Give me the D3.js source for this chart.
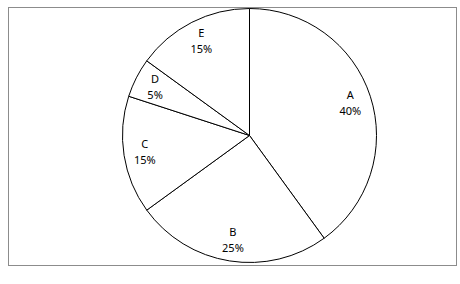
<!DOCTYPE html>
<html>
<head>
<meta charset="utf-8">
<script src="https://cdn.jsdelivr.net/npm/d3@7"></script>
<style>
  body { margin: 0; background: #fff; }
  svg { display: block; }
  .slice { fill: #fff; stroke: #000; stroke-width: 1; }
  .frame { fill: none; stroke: #8c8c8c; stroke-width: 1; }
  .label { font-family: "Noto Sans", sans-serif; font-size: 11px; fill: #000; text-anchor: middle; }
</style>
</head>
<body>
<svg width="460" height="284"></svg>
<script>
// Share of each category (percent)
const categories = ['A', 'B', 'C', 'D', 'E'];
const shares = [40, 25, 15, 5, 15];

const svg = d3.select('svg');
const cx = 249.5, cy = 135.5, radius = 127;

// Grey outer border
svg.append('rect')
  .attr('class', 'frame')
  .attr('x', 8.5)
  .attr('y', 7.5)
  .attr('width', 448)
  .attr('height', 258);

const pie = d3.pie()
  .sort(null) // keep the order, clockwise from 12 o'clock
  .value(d => d.value);

const arcs = pie(categories.map((c, i) => ({ name: c, value: shares[i] })));

const arc = d3.arc().innerRadius(0).outerRadius(radius);
const labelArc = d3.arc().innerRadius(106).outerRadius(106);

const g = svg.append('g')
  .attr('transform', `translate(${cx}, ${cy})`);

// Slices
g.selectAll('path')
  .data(arcs)
  .enter()
  .append('path')
  .attr('class', 'slice')
  .attr('d', arc);

// Labels: name on first line, percentage below
const labels = g.selectAll('text')
  .data(arcs)
  .enter()
  .append('text')
  .attr('class', 'label')
  .attr('transform', d => `translate(${labelArc.centroid(d)})`);

labels.append('tspan')
  .attr('x', 0)
  .attr('y', -4)
  .text(d => d.data.name);

labels.append('tspan')
  .attr('x', 0)
  .attr('y', 12)
  .text(d => d.data.value + '%');
</script>
</body>
</html>
